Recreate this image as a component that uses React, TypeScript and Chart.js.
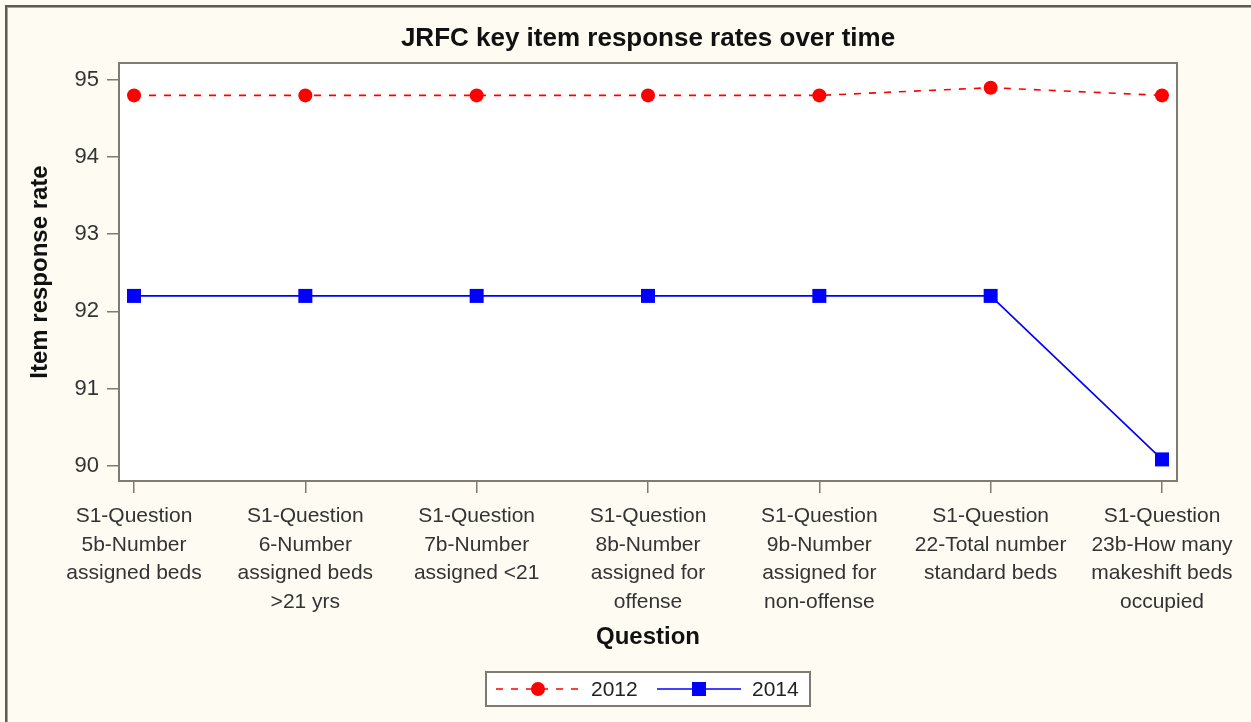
import React, { useEffect, useRef } from "react";
import { Chart, registerables } from "chart.js";

Chart.register(...registerables);

const categories: string[][] = [
  ["S1-Question", "5b-Number", "assigned beds"],
  ["S1-Question", "6-Number", "assigned beds", ">21 yrs"],
  ["S1-Question", "7b-Number", "assigned <21"],
  ["S1-Question", "8b-Number", "assigned for", "offense"],
  ["S1-Question", "9b-Number", "assigned for", "non-offense"],
  ["S1-Question", "22-Total number", "standard beds"],
  ["S1-Question", "23b-How many", "makeshift beds", "occupied"],
];
const values2012 = [94.8, 94.8, 94.8, 94.8, 94.8, 94.9, 94.8];
const values2014 = [92.2, 92.2, 92.2, 92.2, 92.2, 92.2, 90.08];
const yTicks = [90, 91, 92, 93, 94, 95];
const seriesNames = ["2012", "2014"];

const FONT = "'Liberation Sans', Arial, Helvetica, sans-serif";
const BG = "#FEFBF3";
const AXIS = "#7F7B70";
const RED = "#FF0000";
const BLUE = "#0000FF";

const framePlugin = {
  id: "framePlugin",
  beforeDraw(chart: any) {
    const { ctx, width, height, chartArea } = chart;
    ctx.save();
    ctx.fillStyle = BG;
    ctx.fillRect(0, 0, width, height);
    ctx.fillStyle = "#5C5B52";
    ctx.fillRect(5, 5, 2, height);
    ctx.fillRect(5, 5, width, 2);
    ctx.fillStyle = "#A8A598";
    ctx.fillRect(7, 7, 1, height);
    ctx.fillRect(7, 7, width, 1);
    ctx.fillStyle = "#FFFFFF";
    ctx.fillRect(chartArea.left, chartArea.top, chartArea.right - chartArea.left, chartArea.bottom - chartArea.top);
    ctx.restore();
  },
  beforeDatasetsDraw(chart: any) {
    const { ctx, chartArea } = chart;
    ctx.save();
    ctx.strokeStyle = AXIS;
    ctx.lineWidth = 2;
    ctx.strokeRect(chartArea.left, chartArea.top, chartArea.right - chartArea.left, chartArea.bottom - chartArea.top);
    ctx.restore();
  },
  afterDraw(chart: any) {
    const { ctx, chartArea } = chart;
    const cx = (chartArea.left + chartArea.right) / 2;
    const boxW = 324;
    const boxH = 34;
    const bx = Math.round(cx - boxW / 2);
    const by = 672;
    const my = by + boxH / 2;
    ctx.save();
    ctx.fillStyle = "#FFFFFF";
    ctx.fillRect(bx, by, boxW, boxH);
    ctx.strokeStyle = AXIS;
    ctx.lineWidth = 2;
    ctx.strokeRect(bx, by, boxW, boxH);
    ctx.strokeStyle = RED;
    ctx.lineWidth = 1.6;
    ctx.setLineDash([7, 8]);
    ctx.beginPath();
    ctx.moveTo(bx + 10, my);
    ctx.lineTo(bx + 94, my);
    ctx.stroke();
    ctx.setLineDash([]);
    ctx.fillStyle = RED;
    ctx.beginPath();
    ctx.arc(bx + 52, my, 7, 0, Math.PI * 2);
    ctx.fill();
    ctx.fillStyle = "#222222";
    ctx.font = `21px ${FONT}`;
    ctx.textBaseline = "middle";
    ctx.textAlign = "left";
    ctx.fillText(seriesNames[0], bx + 105, my + 1);
    ctx.strokeStyle = BLUE;
    ctx.beginPath();
    ctx.moveTo(bx + 171, my);
    ctx.lineTo(bx + 255, my);
    ctx.stroke();
    ctx.fillStyle = BLUE;
    ctx.fillRect(bx + 213 - 7, my - 7, 14, 14);
    ctx.fillStyle = "#222222";
    ctx.fillText(seriesNames[1], bx + 266, my + 1);
    ctx.restore();
  },
};

export default function App() {
  const ref = useRef<HTMLCanvasElement | null>(null);

  useEffect(() => {
    if (!ref.current) return;
    const chart = new Chart(ref.current, {
      type: "line",
      data: {
        datasets: [
          {
            label: seriesNames[0],
            data: values2012.map((v, i) => ({ x: i, y: v })),
            borderColor: RED,
            backgroundColor: RED,
            borderWidth: 1.6,
            borderDash: [7, 8],
            pointStyle: "circle",
            pointRadius: 7,
            pointBorderWidth: 0,
            pointBackgroundColor: RED,
            tension: 0,
          },
          {
            label: seriesNames[1],
            data: values2014.map((v, i) => ({ x: i, y: v })),
            borderColor: BLUE,
            backgroundColor: BLUE,
            borderWidth: 1.6,
            pointStyle: "rect",
            pointRadius: 9.9,
            pointBorderWidth: 0,
            pointBackgroundColor: BLUE,
            tension: 0,
          },
        ],
      },
      options: {
        responsive: false,
        animation: false,
        events: [],
        layout: { padding: { left: 0, right: 74, top: 0, bottom: 0 } },
        plugins: {
          legend: { display: false },
          tooltip: { enabled: false },
          title: {
            display: true,
            fullSize: false,
            text: "JRFC key item response rates over time",
            color: "#111111",
            font: { family: FONT, size: 26, weight: "bold", lineHeight: 1.2 },
            padding: { top: 23, bottom: 8.8 },
          },
        },
        scales: {
          x: {
            type: "linear",
            min: -0.0876,
            max: 6.0876,
            afterBuildTicks: (scale: any) => {
              scale.ticks = categories.map((_, i) => ({ value: i }));
            },
            afterFit: (scale: any) => {
              scale.height = 722 - 481;
            },
            grid: {
              drawOnChartArea: false,
              drawTicks: true,
              tickLength: 12,
              color: AXIS,
              lineWidth: 1.5,
            },
            border: { display: false },
            ticks: {
              autoSkip: false,
              maxRotation: 0,
              minRotation: 0,
              padding: 9,
              color: "#333333",
              font: { family: FONT, size: 21, lineHeight: 1.357 },
              callback: (v: any) => {
                const i = Math.round(Number(v));
                return categories[i] ?? "";
              },
            },
            title: {
              display: true,
              text: "Question",
              color: "#111111",
              font: { family: FONT, size: 24, weight: "bold", lineHeight: 1.2 },
              padding: { top: 0, bottom: 70.6 },
            },
          },
          y: {
            type: "linear",
            min: 89.8,
            max: 95.22,
            afterBuildTicks: (scale: any) => {
              scale.ticks = yTicks.map((v) => ({ value: v }));
            },
            afterFit: (scale: any) => {
              scale.width = 119;
            },
            grid: {
              drawOnChartArea: false,
              drawTicks: true,
              tickLength: 12,
              color: AXIS,
              lineWidth: 1.5,
            },
            border: { display: false },
            ticks: {
              padding: 8,
              color: "#333333",
              font: { family: FONT, size: 22 },
              callback: (v: any) => String(v),
            },
            title: {
              display: true,
              text: "Item response rate",
              color: "#111111",
              font: { family: FONT, size: 24, weight: "bold", lineHeight: 1.2 },
              padding: { top: 26, bottom: 0 },
            },
          },
        },
      },
      plugins: [framePlugin],
    } as any);
    return () => chart.destroy();
  }, []);

  return (
    <div style={{ position: "fixed", left: 0, top: 0, width: 1251, height: 722, background: BG }}>
      <canvas ref={ref} width={1251} height={722} style={{ display: "block", width: 1251, height: 722 }} />
    </div>
  );
}
